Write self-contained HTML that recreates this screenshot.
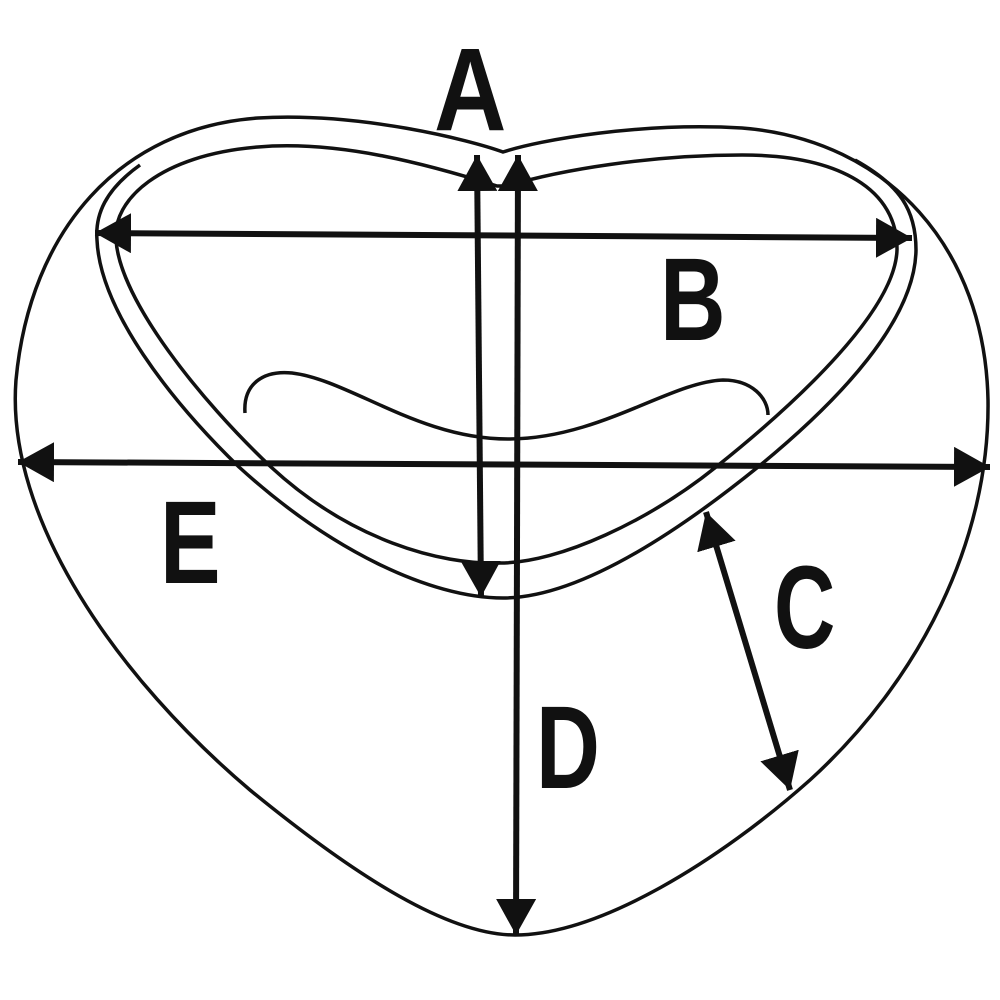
<!DOCTYPE html>
<html><head><meta charset="utf-8"><style>
html,body{margin:0;padding:0;background:#fff;width:1000px;height:1000px;overflow:hidden}
svg{display:block}
text{font-family:"Liberation Sans",sans-serif;font-weight:bold;font-size:118px;fill:#111}
</style></head><body>
<svg width="1000" height="1000" viewBox="0 0 1000 1000">
<defs>
<marker id="ah" viewBox="0 0 36 40" refX="36" refY="20" markerWidth="36" markerHeight="40" orient="auto-start-reverse" markerUnits="userSpaceOnUse">
<path d="M0,0 L36,20 L0,40 Z" fill="#111"/></marker>
</defs>
<g fill="none" stroke="#111" stroke-width="3.5">
<path d="M503,152 C470,140 360,112 258,118 C120,128 30,230 16,380 C5,520 120,680 250,790 C360,880 450,935 515,935 C600,935 720,860 810,780 C920,680 990,540 988,400 C985,250 890,140 742,128 C640,122 540,140 503,152 Z"/>
<path d="M497,186 C430,165 340,140 258,147 C160,155 112,200 116,240 C120,300 200,400 271,467 C350,540 440,565 500,563 C560,563 650,520 716,467 C800,400 895,310 897,250 C898,190 840,155 742,155 C650,155 560,170 507,186 Z"/>
<path d="M140,165 C105,190 95,215 97,240 C100,310 170,400 239,467 C330,550 430,598 503,598 C580,598 680,530 758,467 C840,400 915,320 916,250 C916,210 900,185 855,160"/>
<path d="M245,413 C243,385 262,370 292,373 C350,380 420,440 510,439 C600,438 670,382 723,380 C752,380 768,398 768,415"/>
</g>
<g stroke="#111" stroke-width="6" fill="none">
<line x1="477" y1="155" x2="481" y2="597" marker-start="url(#ah)" marker-end="url(#ah)"/>
<line x1="518" y1="155" x2="516" y2="935" marker-start="url(#ah)" marker-end="url(#ah)"/>
<line x1="95" y1="233" x2="912" y2="238" marker-start="url(#ah)" marker-end="url(#ah)"/>
<line x1="18" y1="462" x2="990" y2="467" marker-start="url(#ah)" marker-end="url(#ah)"/>
<line x1="706" y1="512" x2="790" y2="790" marker-start="url(#ah)" marker-end="url(#ah)"/>
</g>
<text transform="translate(434,130) scale(0.85,1)">A</text>
<text transform="translate(660,340) scale(0.77,1)">B</text>
<text transform="translate(160,583) scale(0.77,1)">E</text>
<text transform="translate(774,648) scale(0.72,1)">C</text>
<text transform="translate(536,788) scale(0.75,1)">D</text>
</svg>
</body></html>
